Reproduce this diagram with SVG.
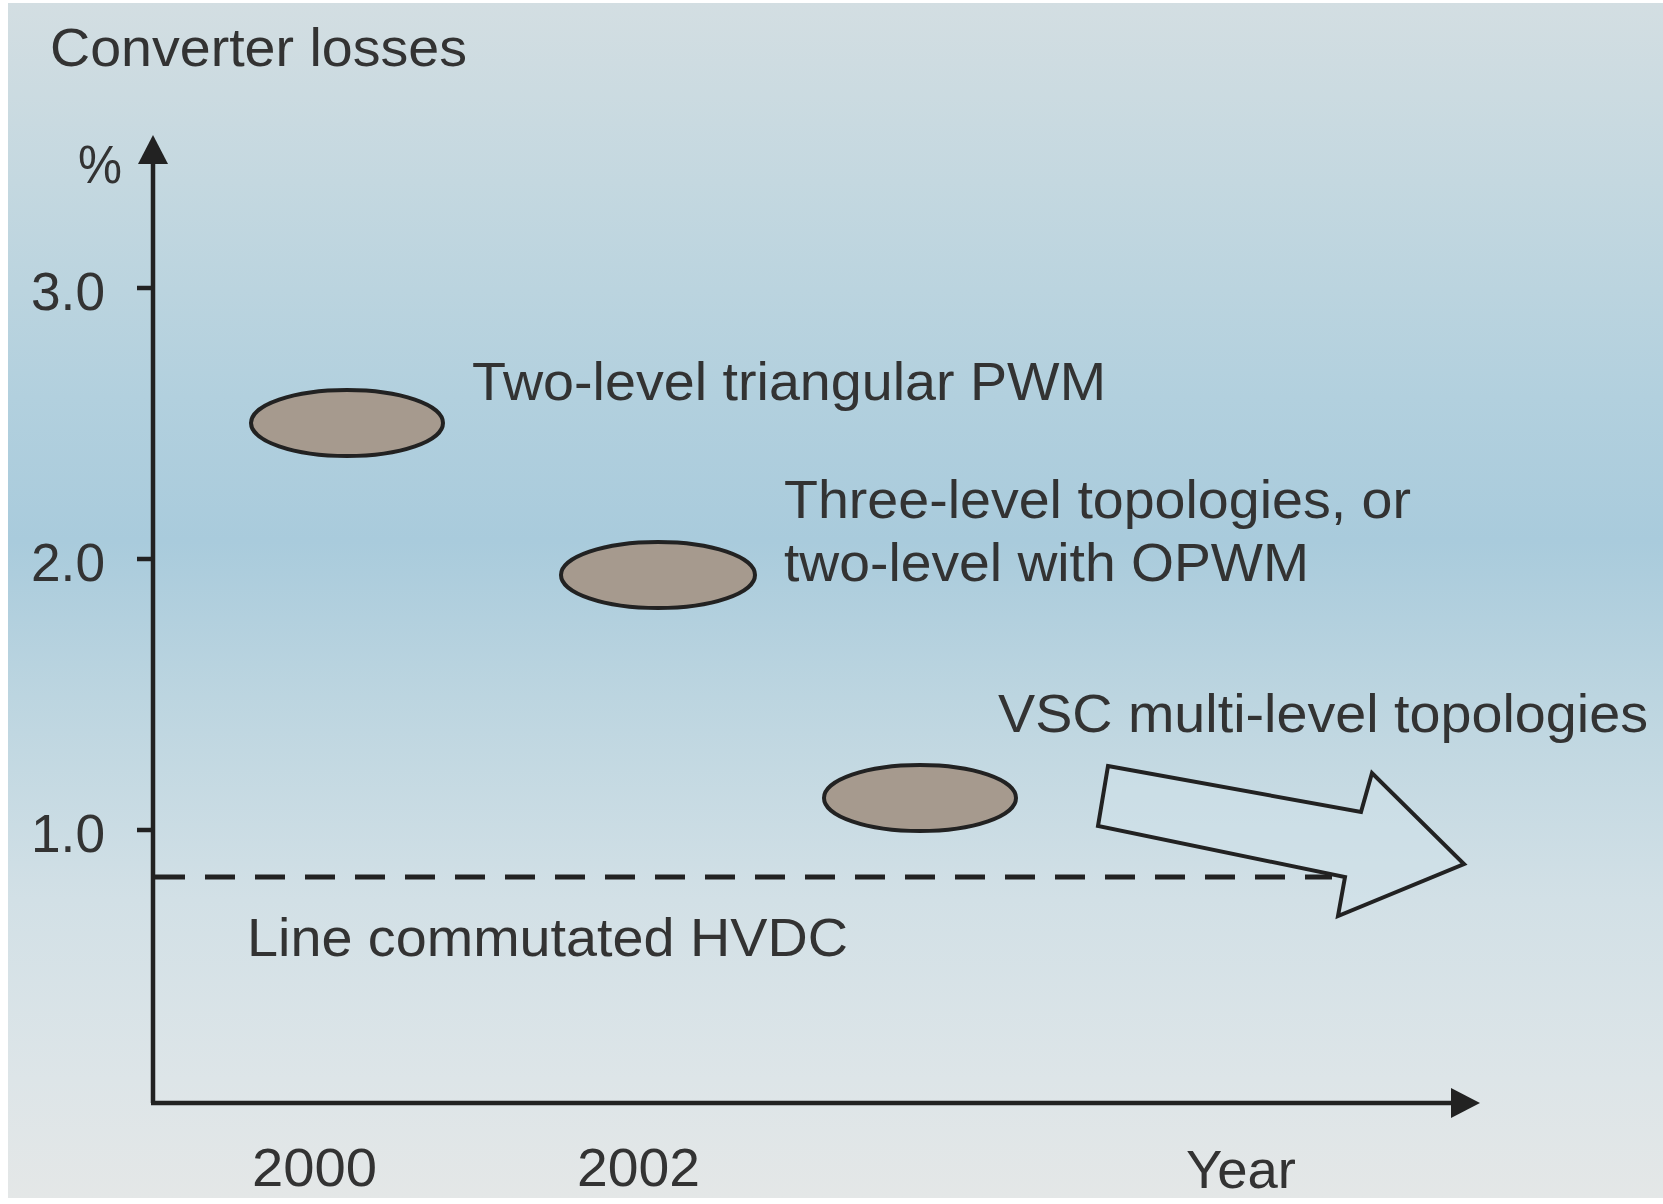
<svg xmlns="http://www.w3.org/2000/svg" width="1663" height="1204" viewBox="0 0 1663 1204">
<defs>
<linearGradient id="bg" x1="0" y1="0" x2="0" y2="1">
<stop offset="0" stop-color="#d3dee2"/>
<stop offset="0.15" stop-color="#c4d8e0"/>
<stop offset="0.33" stop-color="#b2d0de"/>
<stop offset="0.45" stop-color="#a9cbdc"/>
<stop offset="0.58" stop-color="#bcd5e0"/>
<stop offset="0.75" stop-color="#d2e0e6"/>
<stop offset="0.9" stop-color="#dde5e8"/>
<stop offset="1" stop-color="#e4e7e7"/>
</linearGradient>
<marker id="ah" markerWidth="10" markerHeight="10" viewBox="0 0 10 10" refX="10" refY="5" orient="auto" markerUnits="userSpaceOnUse" >
<path d="M0,0 L10,5 L0,10 Z" fill="#222"/>
</marker>
</defs>
<style>
text{font-family:"Liberation Sans",Arial,sans-serif;fill:#333;font-size:53px}
.ell{fill:#a69a8e;stroke:#222;stroke-width:4}
.ax{stroke:#222;stroke-width:4.5;fill:none}
</style>
<rect x="0" y="0" width="1663" height="1204" fill="#ffffff"/>
<rect x="8" y="3" width="1655" height="1195" fill="url(#bg)"/>

<g id="axes">
<line class="ax" x1="153" y1="160" x2="153" y2="1103"/>
<line class="ax" x1="151" y1="1103" x2="1455" y2="1103"/>
<polygon points="153,135 138,164 168,164" fill="#222"/>
<polygon points="1480,1103 1451,1088 1451,1118" fill="#222"/>
<line class="ax" x1="137" y1="288" x2="153" y2="288"/>
<line class="ax" x1="137" y1="559" x2="153" y2="559"/>
<line class="ax" x1="137" y1="830" x2="153" y2="830"/>
</g>

<g id="labels">
<text x="50" y="66" textLength="417" lengthAdjust="spacingAndGlyphs">Converter losses</text>
<text x="78" y="183" textLength="44" lengthAdjust="spacingAndGlyphs">%</text>
<text x="31" y="310" textLength="74" lengthAdjust="spacingAndGlyphs">3.0</text>
<text x="31" y="581" textLength="74" lengthAdjust="spacingAndGlyphs">2.0</text>
<text x="31" y="852" textLength="74" lengthAdjust="spacingAndGlyphs">1.0</text>
<text x="252" y="1186" textLength="125" lengthAdjust="spacingAndGlyphs">2000</text>
<text x="577" y="1186" textLength="123" lengthAdjust="spacingAndGlyphs">2002</text>
<text x="1186" y="1188" textLength="110" lengthAdjust="spacingAndGlyphs">Year</text>
</g>

<g id="connectors">
<line x1="155" y1="877" x2="1332" y2="877" stroke="#222" stroke-width="5" stroke-dasharray="30 20"/>
</g>

<g id="node-lcc">
<text x="247" y="956" textLength="601" lengthAdjust="spacingAndGlyphs">Line commutated HVDC</text>
</g>

<g id="node-two-level">
<ellipse class="ell" cx="347" cy="423" rx="96" ry="33"/>
<text x="472" y="400" textLength="634" lengthAdjust="spacingAndGlyphs">Two-level triangular PWM</text>
</g>

<g id="node-three-level">
<ellipse class="ell" cx="658" cy="575" rx="97" ry="33"/>
<text x="784" y="518" textLength="627" lengthAdjust="spacingAndGlyphs">Three-level topologies, or</text>
<text x="784" y="581" textLength="525" lengthAdjust="spacingAndGlyphs">two-level with OPWM</text>
</g>

<g id="node-vsc">
<ellipse class="ell" cx="920" cy="798" rx="96" ry="33"/>
<text x="998" y="732" textLength="650" lengthAdjust="spacingAndGlyphs">VSC multi-level topologies</text>
<polygon points="1108,766 1361,812 1372,773 1464,864 1338,916 1345,877 1098,826" fill="#cfe1ea" fill-opacity="0.5" stroke="#222" stroke-width="4" stroke-linejoin="miter"/>
</g>
</svg>
